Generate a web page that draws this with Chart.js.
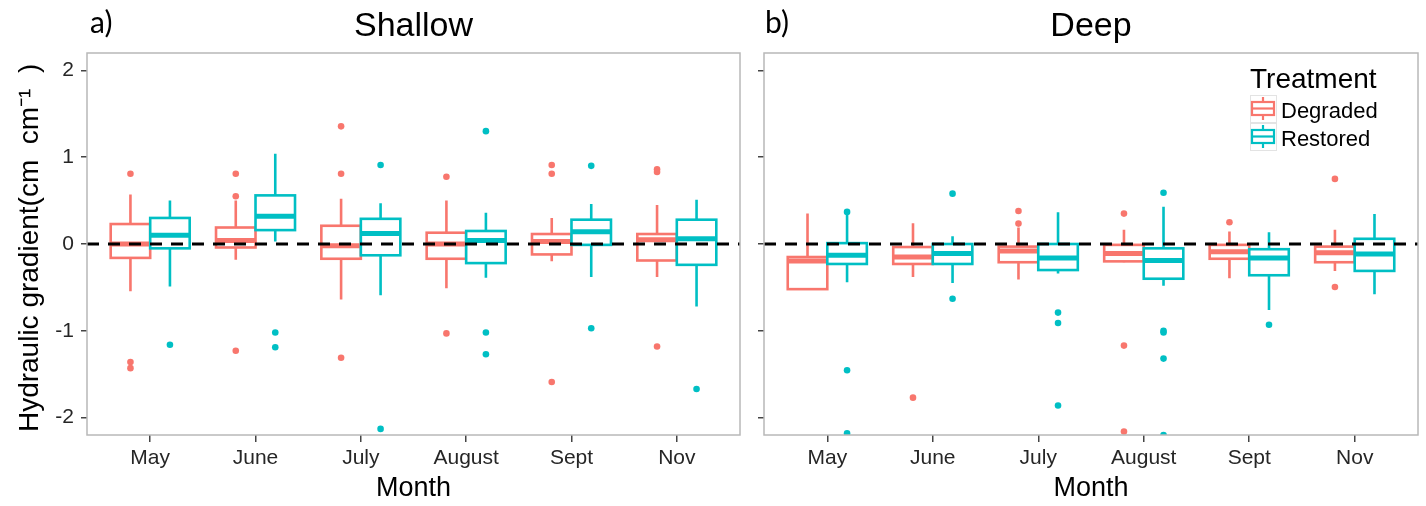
<!DOCTYPE html>
<html><head><meta charset="utf-8">
<script src="https://cdn.jsdelivr.net/npm/chart.js@4.4.0/dist/chart.umd.min.js"></script>
<style>
html,body{margin:0;padding:0;background:#fff;}
#wrap{position:relative;width:1426px;height:506px;overflow:hidden;}
#c1{position:absolute;left:0;top:0;}
#c2{position:absolute;left:748px;top:0;}
</style></head><body>
<div id="wrap">
<canvas id="c1" width="748" height="506"></canvas>
<canvas id="c2" width="678" height="506"></canvas>
</div>
<script>
// ---------- data ----------
const months = ['May','June','July','August','Sept','Nov'];
const yTicks = [-2,-1,0,1,2];
const treatments = ['Degraded','Restored'];
const colorDegraded = '#F8766D';
const colorRestored = '#00BFC4';

// box stats: [lowerWhisker, q1, median, q3, upperWhisker] per month
const shallowDegraded = [
  [-0.545,-0.16, 0.00, 0.23, 0.57],
  [-0.18, -0.04, 0.04, 0.19, 0.50],
  [-0.64, -0.17,-0.02, 0.21, 0.52],
  [-0.51, -0.17, 0.00, 0.13, 0.50],
  [-0.20, -0.12, 0.03, 0.115,0.30],
  [-0.38, -0.19, 0.05, 0.115,0.45]
];
const shallowDegradedOut = [
  [0.81,-1.36,-1.43],
  [0.81,0.55,-1.23],
  [1.355,0.81,-1.31],
  [0.775,-1.03],
  [0.91,0.81,-1.59],
  [0.86,0.83,-1.18]
];
const shallowRestored = [
  [-0.49,-0.05, 0.10, 0.30, 0.50],
  [ 0.03, 0.16, 0.32, 0.56, 1.04],
  [-0.59,-0.13, 0.12, 0.29, 0.47],
  [-0.39,-0.22, 0.04, 0.15, 0.36],
  [-0.38,-0.01, 0.14, 0.28, 0.46],
  [-0.72,-0.24, 0.06, 0.28, 0.51]
];
const shallowRestoredOut = [
  [-1.16],
  [-1.02,-1.19],
  [0.91,-2.13],
  [1.30,-1.02,-1.27],
  [0.90,-0.97],
  [-1.67]
];
const deepDegraded = [
  [-0.53,-0.52,-0.195,-0.15, 0.35],
  [-0.38,-0.23,-0.15,-0.035, 0.24],
  [-0.41,-0.21,-0.08,-0.03, 0.19],
  [-0.21,-0.20,-0.11,-0.01, 0.165],
  [-0.395,-0.17,-0.09,-0.01, 0.145],
  [-0.31,-0.21,-0.10,-0.03, 0.165]
];
const deepDegradedOut = [
  [],
  [-1.77],
  [0.38,0.235],
  [0.35,-1.17,-2.16],
  [0.25],
  [0.75,-0.495]
];
const deepRestored = [
  [-0.44,-0.23,-0.13, 0.01, 0.36],
  [-0.45,-0.23,-0.11, 0.00, 0.09],
  [-0.34,-0.30,-0.16, 0.00, 0.365],
  [-0.48,-0.40,-0.19,-0.05, 0.43],
  [-0.76,-0.36,-0.16,-0.06, 0.135],
  [-0.58,-0.31,-0.115,0.06, 0.345]
];
const deepRestoredOut = [
  [0.37,-1.455,-2.18],
  [0.58,-0.63],
  [-0.79,-0.91,-1.86],
  [0.59,-1.0,-1.02,-1.32,-2.2],
  [-0.93],
  []
];

// ---------- rendering ----------
Chart.defaults.font.family = "'Liberation Sans', Arial, sans-serif";
const DODGE = 0.1875, HALF = 0.1875;

function outPoints(arr, offset){
  return arr.flatMap((vals,i)=>vals.map(v=>({x:i+1+offset, y:v})));
}

function boxPlugin(groups){
  return {
    id:'boxes',
    beforeDatasetsDraw(chart){
      const {ctx, chartArea:a, scales:{x,y}} = chart;
      ctx.save();
      ctx.beginPath(); ctx.rect(a.left,a.top,a.right-a.left,a.bottom-a.top); ctx.clip();
      for (const g of groups){
        g.stats.forEach((s,i)=>{
          const c = i+1+g.offset;
          const px = x.getPixelForValue(c);
          const l = x.getPixelForValue(c-HALF), r = x.getPixelForValue(c+HALF);
          const [lo,q1,md,q3,hi] = s.map(v=>y.getPixelForValue(v));
          ctx.strokeStyle = g.color; ctx.lineWidth = 2.6;
          ctx.beginPath(); ctx.moveTo(px,hi); ctx.lineTo(px,q3); ctx.moveTo(px,q1); ctx.lineTo(px,lo); ctx.stroke();
          ctx.fillStyle = '#fff'; ctx.fillRect(l,q3,r-l,q1-q3);
          ctx.strokeRect(l,q3,r-l,q1-q3);
          ctx.lineWidth = 5;
          ctx.beginPath(); ctx.moveTo(l,md); ctx.lineTo(r,md); ctx.stroke();
        });
      }
      ctx.restore();
    }
  };
}

function decorPlugin(title, letter, letterX, showLegend){
  return {
    id:'decor',
    afterDraw(chart){
      const {ctx, chartArea:a} = chart;
      ctx.save();
      ctx.strokeStyle = '#b8b8b8'; ctx.lineWidth = 1.5;
      ctx.strokeRect(a.left, a.top, a.right-a.left, a.bottom-a.top);
      ctx.fillStyle = '#000';
      ctx.textBaseline = 'alphabetic';
      ctx.textAlign = 'center';
      ctx.font = "34px 'Liberation Sans', Arial, sans-serif";
      ctx.fillText(title, (a.left+a.right)/2, 36);
      ctx.textAlign = 'left';
      ctx.font = "30px Lato, 'Liberation Sans', sans-serif";
      ctx.fillText(letter, letterX, 33);
      if (showLegend){
        ctx.font = "28px 'Liberation Sans', Arial, sans-serif";
        ctx.fillText('Treatment', 502, 88);
        const keys = [{label:treatments[0], color:colorDegraded, top:95},
                      {label:treatments[1], color:colorRestored, top:123}];
        keys.forEach(k=>{
          const kx = 502, kw = 26, kh = 27, ky = k.top;
          ctx.strokeStyle = '#e3e3e3'; ctx.lineWidth = 1;
          ctx.strokeRect(kx+0.5, ky+0.5, kw, kh);
          ctx.strokeStyle = k.color; ctx.lineWidth = 2.2;
          const cx = kx + kw/2;
          ctx.beginPath(); ctx.moveTo(cx, ky+2); ctx.lineTo(cx, ky+kh-2); ctx.stroke();
          ctx.fillStyle = '#fff';
          ctx.fillRect(kx+2, ky+7, kw-4, kh-14);
          ctx.strokeRect(kx+2, ky+7, kw-4, kh-14);
          ctx.beginPath(); ctx.moveTo(kx+2, ky+kh/2); ctx.lineTo(kx+kw-2, ky+kh/2); ctx.stroke();
          ctx.fillStyle = '#000';
          ctx.font = "22px 'Liberation Sans', Arial, sans-serif";
          ctx.fillText(k.label, 533, ky+23);
        });
      }
      ctx.restore();
    }
  };
}

function makeChart(id, p){
  const yScale = {
    type:'linear', min:-2.2, max:2.2,
    afterBuildTicks:s=>{ s.ticks = yTicks.map(v=>({value:v})); },
    ticks:{display:p.left, font:{size:21}, color:'#262626', padding:7},
    grid:{display:true, drawOnChartArea:false, drawTicks:true, tickLength:6, color:'#444', lineWidth:1.5},
    border:{display:false},
    title:{display:p.left, text:'Hydraulic gradient(cm  cm\u207B\u00B9  ) ', font:{size:28}, color:'#000', padding:{top:13,bottom:0}},
    afterFit:s=>{ s.width = p.left ? 87 : 16; }
  };
  return new Chart(document.getElementById(id), {
    type:'scatter',
    data:{datasets:[
      {type:'line', data:[{x:0.4,y:0},{x:6.6,y:0}], borderColor:'#000', borderWidth:3, borderDash:[12,9], pointRadius:0, order:0, clip:0},
      {label:treatments[0], data:outPoints(p.degOut,-DODGE), backgroundColor:colorDegraded, borderWidth:0, pointRadius:3.3, order:1, clip:0},
      {label:treatments[1], data:outPoints(p.resOut, DODGE), backgroundColor:colorRestored, borderWidth:0, pointRadius:3.3, order:1, clip:0}
    ]},
    options:{
      responsive:false, animation:false, events:[],
      layout:{padding:{left:0,right:8,top:53,bottom:0}},
      plugins:{legend:{display:false}, tooltip:{enabled:false}},
      scales:{
        x:{
          type:'linear', min:0.4, max:6.6,
          afterBuildTicks:s=>{ s.ticks = months.map((m,i)=>({value:i+1})); },
          ticks:{callback:v=>months[Math.round(v)-1], font:{size:21}, color:'#262626', padding:4, autoSkip:false, maxRotation:0},
          grid:{display:true, drawOnChartArea:false, drawTicks:true, tickLength:7, color:'#444', lineWidth:1.5},
          border:{display:false},
          title:{display:true, text:'Month', font:{size:27}, color:'#000', padding:{top:0,bottom:1}},
          afterFit:s=>{ s.height = 71; }
        },
        y:yScale
      }
    },
    plugins:[
      boxPlugin([{stats:p.deg, color:colorDegraded, offset:-DODGE},{stats:p.res, color:colorRestored, offset:DODGE}]),
      decorPlugin(p.title, p.letter, p.letterX, p.legend)
    ]
  });
}

makeChart('c1', {left:true, title:'Shallow', letter:'a)', letterX:90, legend:false,
  deg:shallowDegraded, res:shallowRestored, degOut:shallowDegradedOut, resOut:shallowRestoredOut});
makeChart('c2', {left:false, title:'Deep', letter:'b)', letterX:17, legend:true,
  deg:deepDegraded, res:deepRestored, degOut:deepDegradedOut, resOut:deepRestoredOut});
</script>
</body></html>
